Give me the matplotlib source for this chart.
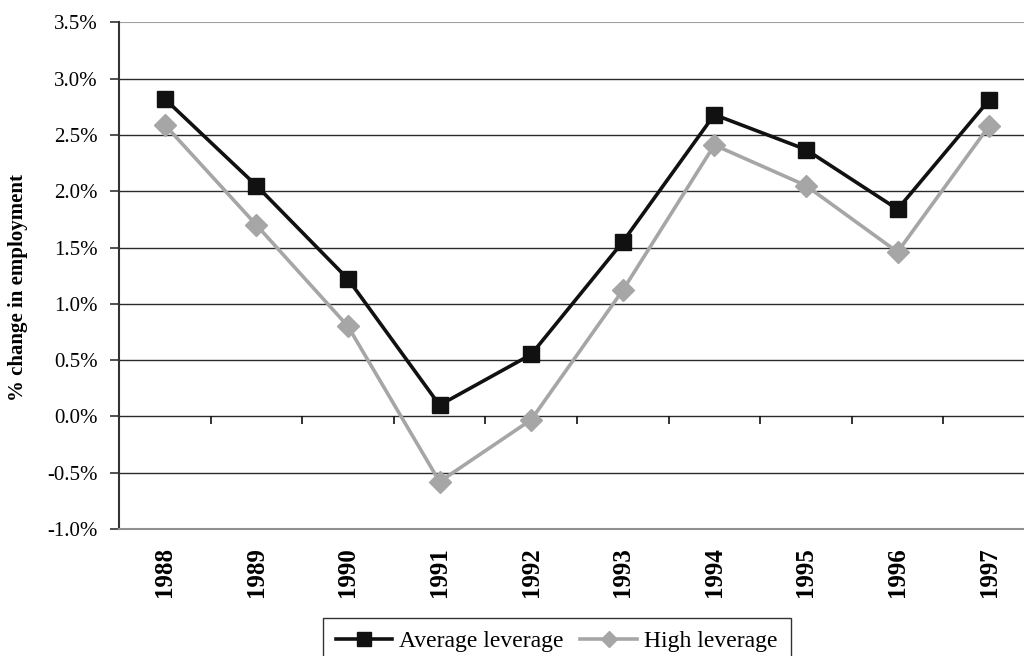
import matplotlib
matplotlib.use("Agg")
import matplotlib.pyplot as plt
from matplotlib.ticker import FuncFormatter, MultipleLocator
from matplotlib.lines import Line2D
import numpy as np

plt.rcParams['font.family'] = ['Liberation Serif', 'DejaVu Serif']

years = ['1988', '1989', '1990', '1991', '1992', '1993', '1994', '1995', '1996', '1997']
avg_leverage = [2.82, 2.05, 1.22, 0.10, 0.55, 1.55, 2.68, 2.37, 1.84, 2.81]
high_leverage = [2.59, 1.70, 0.80, -0.58, -0.03, 1.12, 2.41, 2.05, 1.46, 2.58]

fig = plt.figure(figsize=(10.24, 6.56), dpi=100)
ax = fig.add_axes([0.1162, 0.1936, 0.8945, 0.7724])

x = np.arange(len(years))

# horizontal gridlines
for v in np.arange(-0.5, 3.01, 0.5):
    ax.axhline(v, color='#2a2a2a', lw=1.0, zorder=1)
ax.axhline(3.5, color='#a0a0a0', lw=1.5, zorder=1)

ax.plot(x, avg_leverage, color='#111111', lw=2.6, marker='s', markersize=12,
        markerfacecolor='#111111', markeredgecolor='#111111', zorder=4,
        label='Average leverage')
ax.plot(x, high_leverage, color='#a6a6a6', lw=2.6, marker='D', markersize=11,
        markerfacecolor='#a6a6a6', markeredgecolor='#a6a6a6', zorder=3,
        label='High leverage')

# category boundary tick marks on the zero line
bounds = np.arange(len(years) + 1) - 0.5
ax.vlines(bounds[1:], -0.065, 0, color='#111111', lw=1.2, zorder=2)

ax.set_xlim(-0.5, len(years) - 0.5)
ax.set_ylim(-1.0, 3.5)
ax.yaxis.set_major_locator(MultipleLocator(0.5))
ax.yaxis.set_major_formatter(FuncFormatter(lambda v, p: f"{v:.1f}%"))
ax.tick_params(axis='y', direction='out', length=6.5, width=1.2, pad=9,
               labelsize=15, color='#333333')

ax.set_xticks(x)
ax.set_xticklabels(years, rotation=90, fontsize=18, fontweight='bold', va='top')
ax.tick_params(axis='x', length=0, pad=13)

for s in ['top', 'right']:
    ax.spines[s].set_visible(False)
ax.spines['left'].set_color('#333333')
ax.spines['left'].set_linewidth(1.5)
ax.spines['bottom'].set_color('#909090')
ax.spines['bottom'].set_linewidth(1.5)

fig.text(0.0176, 0.5617, '% change in employment', rotation=90, ha='center',
         va='center', fontsize=15, fontweight='bold')

handles = [
    Line2D([], [], color='#111111', lw=2.6, marker='s', markersize=10),
    Line2D([], [], color='#a6a6a6', lw=2.6, marker='D', markersize=8),
]
leg = fig.legend(handles, ['Average leverage', 'High leverage'], ncol=2,
                 loc='upper center', bbox_to_anchor=(0.5435, 0.058),
                 fontsize=17, frameon=True, fancybox=False, edgecolor='black',
                 handlelength=2.4, handletextpad=0.3, columnspacing=0.7,
                 borderpad=0.55, borderaxespad=0)
leg.get_frame().set_linewidth(1.0)

fig.savefig('out.png', dpi=100)
